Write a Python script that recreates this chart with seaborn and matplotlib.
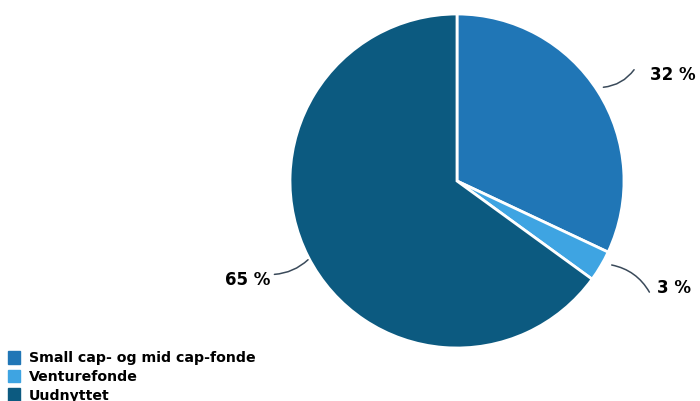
import matplotlib
matplotlib.use("Agg")
import matplotlib.pyplot as plt
import seaborn as sns
from matplotlib.patches import Patch

labels = ["Small cap- og mid cap-fonde", "Venturefonde", "Uudnyttet"]
values = [32, 3, 65]
pct_labels = ["32 %", "3 %", "65 %"]
colors = ["#2076b6", "#3ea4e2", "#0c5a80"]

sns.set_theme(style="white")
plt.rcParams['font.family'] = ['DejaVu Sans']

fig = plt.figure(figsize=(7, 4.01), dpi=100)
# pie centre ~ (457, 181) px, radius ~167 px
r = 167
ax = fig.add_axes([(457 - r) / 700, (401 - 181 - r) / 401, 2 * r / 700, 2 * r / 401])
wedges, _ = ax.pie(values, colors=colors, startangle=90, counterclock=False,
                   wedgeprops=dict(edgecolor="white", linewidth=2), radius=1)
ax.set_xlim(-1, 1)
ax.set_ylim(-1, 1)
ax.set_aspect("equal")
ax.axis("off")

# leader lines: (start on pie, end near label), label anchor, alignment
lines = [((0.86, 0.56), (1.07, 0.68)),
         ((0.91, -0.50), (1.16, -0.68)),
         ((-0.88, -0.46), (-1.11, -0.56))]
text_pos = [(1.155, 0.635), (1.20, -0.64), (-1.12, -0.595)]
ha = ["left", "left", "right"]
curv = [-0.25, 0.25, 0.2]
for (s, e), txt, pos, h, c in zip(lines, pct_labels, text_pos, ha, curv):
    ax.annotate("", xy=s, xytext=e,
                arrowprops=dict(arrowstyle="-", color="#3a4a5a", lw=1.1,
                                connectionstyle=f"arc3,rad={c}"),
                annotation_clip=False)
    ax.text(pos[0], pos[1], txt, ha=h, va="center", fontsize=12,
            fontweight="bold", color="black")

handles = [Patch(facecolor=c, edgecolor=c) for c in colors]
leg = fig.legend(handles, labels, loc="upper left", bbox_to_anchor=(0.012, 0.125),
                 frameon=False, prop=dict(size=10.2, weight="bold"),
                 handlelength=0.85, handleheight=1.0, handletextpad=0.6,
                 labelspacing=0.32, borderpad=0, borderaxespad=0)
for t in leg.get_texts():
    t.set_color("black")

fig.savefig("out.png", dpi=100)
